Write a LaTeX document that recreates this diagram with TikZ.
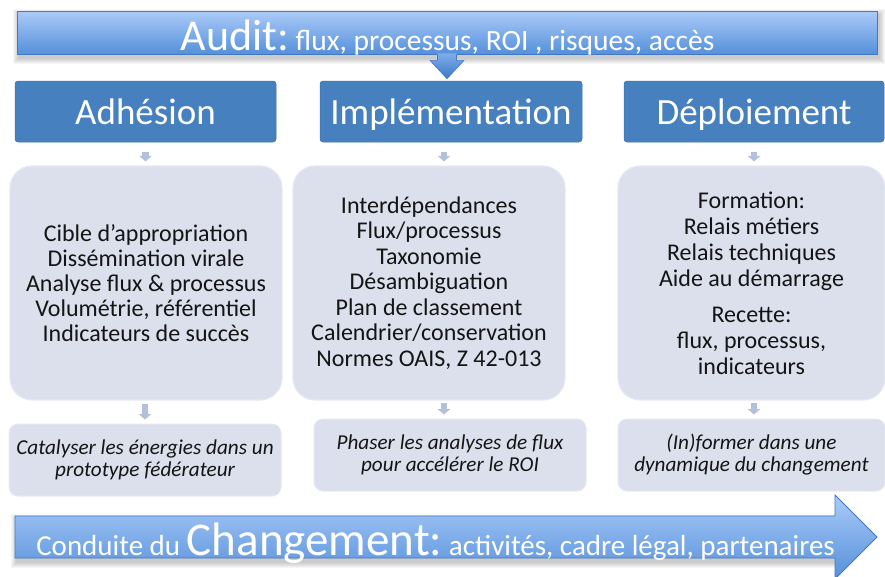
\documentclass[tikz,border=0pt]{standalone}
\usepackage{fontspec}
\setmainfont{Carlito}
\usetikzlibrary{arrows.meta,calc}
\definecolor{hdr}{HTML}{4680BF}
\definecolor{hdrb}{HTML}{3E72AE}
\definecolor{bodyf}{HTML}{DCE0ED}
\definecolor{bodyb}{HTML}{E6E9F2}
\definecolor{arr}{HTML}{B3C0DA}
\definecolor{bantop}{HTML}{ABCBF9}
\definecolor{banbot}{HTML}{5590DA}
\definecolor{banb}{HTML}{4379C0}
\definecolor{arrtop}{HTML}{7FADE9}
\definecolor{arrbot}{HTML}{3A78C8}
\definecolor{txt}{HTML}{141414}
\begin{document}
\begin{tikzpicture}[x=1pt,y=-1pt,
  hdrbox/.style={fill=hdr,draw=hdrb,line width=0.5pt,rounded corners=3pt,inner sep=0pt,
    text=white,font=\fontsize{37}{37}\selectfont,text height=26pt,text depth=0pt},
  bodybox/.style={fill=bodyf,draw=bodyb,line width=1.2pt,rounded corners=22pt,inner sep=0pt,
    align=center,text=txt},
  notebox/.style={fill=bodyf,draw=bodyb,line width=1pt,rounded corners=9pt,inner sep=0pt,
    align=center,text=txt,font=\fontsize{21.2}{22}\selectfont\itshape},
  smallarr/.style={draw=arr,line width=6.5pt,-{Triangle[width=12.5pt,length=5.5pt]}},
  banner/.style={draw=banb,line width=0.8pt,top color=bantop,bottom color=banbot},
  bantext/.style={anchor=base,text=white,inner sep=0pt}]

\useasboundingbox (0,0) rectangle (885,576);
\fill[white] (0,0) rectangle (885,576);

% ---- Audit banner
\foreach \i in {1,...,6}{\fill[black,opacity=0.035] (19-\i,15-\i) rectangle (879+\i,58+\i);}
\node[banner,minimum width=860pt,minimum height=43pt,inner sep=0pt] (audit) at (447,32.5) {};
\node[bantext] (audittxt) at (447.5,50)
  {{\fontsize{44}{44}\selectfont Audit:}{\fontsize{29.5}{30}\selectfont\ flux, processus, ROI , risques, accès}};

% ---- headers
\node[hdrbox,minimum width=261pt,minimum height=61pt] (hA) at (145.5,111.5) {Adhésion};
\node[hdrbox,minimum width=262pt,minimum height=61pt] (hB) at (451,111.5) {Implémentation};
\node[hdrbox,minimum width=260pt,minimum height=61pt] (hC) at (754,111.5) {Déploiement};

% ---- Audit arrow into Implementation
\coordinate (atip) at ($(audit.south |- hB.north)+(0,-2)$);
\shade[top color=arrtop,bottom color=arrbot]
  ($(audit.south)+(-9.5,-1)$) -- ($(audit.south)+(9.5,-1)$) -- ($(audit.south)+(9.5,6)$)
  -- ($(audit.south)+(17,6)$) -- (atip) -- ($(audit.south)+(-17,6)$)
  -- ($(audit.south)+(-9.5,6)$) -- cycle;
\draw[banb,line width=0.6pt,line join=round]
  ($(audit.south)+(9.5,0.4)$) -- ($(audit.south)+(9.5,6)$)
  -- ($(audit.south)+(17,6)$) -- (atip) -- ($(audit.south)+(-17,6)$)
  -- ($(audit.south)+(-9.5,6)$) -- ($(audit.south)+(-9.5,0.4)$);

% ---- body boxes
\node[bodybox,minimum width=272pt,minimum height=234pt,font=\fontsize{24}{25}\selectfont] (bA) at (146,283)
  {Cible d’appropriation\\Dissémination virale\\Analyse flux \& processus\\Volumétrie, référentiel\\Indicateurs de succès};
\node[bodybox,minimum width=272pt,minimum height=234pt,font=\fontsize{24}{25.5}\selectfont] (bB) at (429,283)
  {Interdépendances\\Flux/processus\\Taxonomie\\Désambiguation\\Plan de classement\\Calendrier/conservation\\Normes OAIS, Z 42-013};
\node[bodybox,minimum width=267pt,minimum height=234pt,font=\fontsize{24}{26}\selectfont] (bC) at (751.5,283)
  {Formation:\\Relais métiers\\Relais techniques\\Aide au démarrage\\[10pt]Recette:\\flux, processus,\\indicateurs};

% ---- note boxes
\node[notebox,minimum width=272pt,minimum height=72pt] (nA) at (145,460)
  {Catalyser les énergies dans un\\prototype fédérateur};
\node[notebox,minimum width=272pt,minimum height=72pt] (nB) at (450,455)
  {Phaser les analyses de flux\\pour accélérer le ROI};
\node[notebox,minimum width=267pt,minimum height=72pt] (nC) at (751.5,455)
  {(In)former dans une\\dynamique du changement};

% ---- small arrows
\draw[smallarr] ($(hA.south)+(0,10)$) -- ($(hA.south |- bA.north)+(0,-4)$);
\draw[smallarr] ($(hB.south)+(-7,10)$) -- ($(hB.south |- bB.north)+(-7,-4)$);
\draw[smallarr] ($(hC.south)+(0,10)$) -- ($(hC.south |- bC.north)+(0,-4)$);
\draw[smallarr] ($(bA.south)+(-1,3)$) -- ($(bA.south |- nA.north)+(-1,-4)$);
\draw[smallarr] ($(nB.north |- bB.south)+(-6,2)$) -- ($(nB.north)+(-6,-4)$);
\draw[smallarr] ($(nC.north |- bC.south)+(2.5,2)$) -- ($(nC.north)+(2.5,-4)$);

% ---- change banner arrow
\foreach \i in {1,...,6}{\fill[black,opacity=0.035] (17-\i,520-\i) rectangle (836+\i,562+\i);}
\draw[banner,line join=miter] (15,516) -- (835,516) -- (835,495) -- (877,537) -- (835,579)
  -- (835,558) -- (15,558) -- cycle;
\node[bantext] (chgtxt) at (435.5,555)
  {{\fontsize{29}{29}\selectfont Conduite du\ }{\fontsize{47}{47}\selectfont Changement:}{\fontsize{29}{29}\selectfont\ activités, cadre légal, partenaires}};
\end{tikzpicture}
\end{document}
